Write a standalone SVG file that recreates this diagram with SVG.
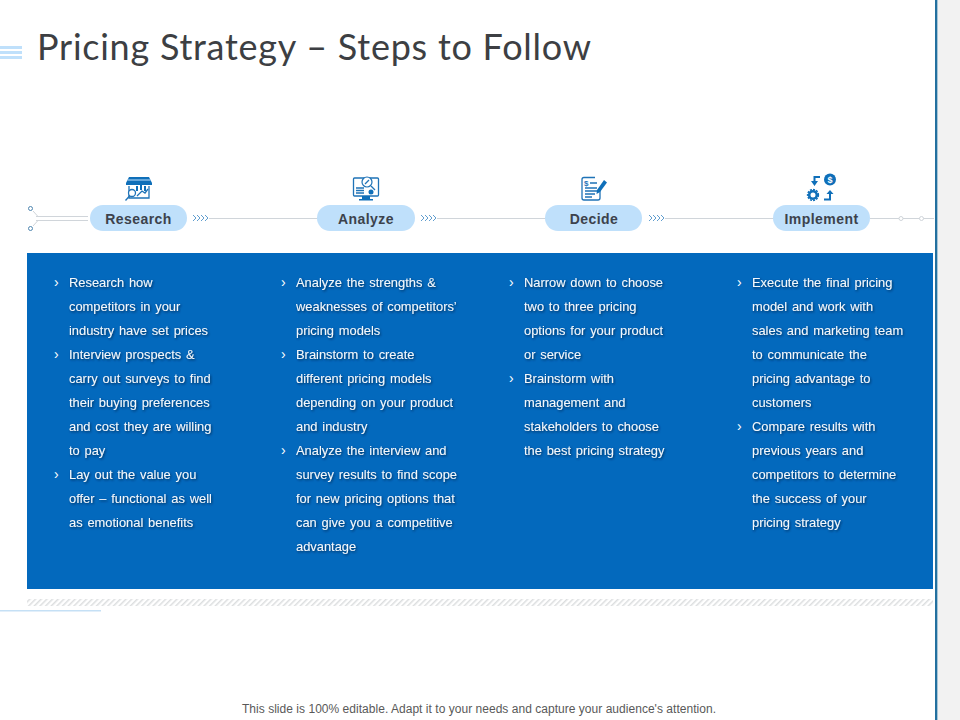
<svg xmlns="http://www.w3.org/2000/svg" width="960" height="720" viewBox="0 0 960 720">
<style>
.t{font-family:"Liberation Sans",Arial,sans-serif}
.pill{fill:#bfe0fb}
.pl{font-family:"Liberation Sans",Arial,sans-serif;font-size:14px;font-weight:700;fill:#3c424c;text-anchor:middle;letter-spacing:.45px}
.b{font-family:"Liberation Sans",Arial,sans-serif;font-size:12.9px;fill:#f4f8fc;word-spacing:1.2px;filter:url(#sh)}
.bu{font-family:"Liberation Sans",sans-serif;font-size:14px;fill:#fff}
.ln{stroke:#d0d5da;stroke-width:1;fill:none}
.ch{stroke:#4f93c9;stroke-width:.9;fill:none}
.ic{stroke:#1f73b7;stroke-width:1.3;fill:none}
.if{fill:#0f6fb9}
</style>
<defs>
<filter id="sh" x="-5%" y="-20%" width="110%" height="150%"><feDropShadow dx="1" dy="1.200" stdDeviation="0.8" flood-color="#00264d" flood-opacity="0.85"/></filter>
<pattern id="hatch" width="4" height="4" patternUnits="userSpaceOnUse" patternTransform="rotate(45)"><rect width="1.500" height="4" fill="#dcdedf"/></pattern>
<g id="chev"><path class="ch" d="M0 -3L3 0L0 3M4 -3L7 0L4 3M8 -3L11 0L8 3M12 -3L15 0L12 3"/></g>
</defs>
<rect width="960" height="720" fill="#fff"/>
<rect x="938" y="0" width="22" height="720" fill="#f2f2f2"/>
<rect x="935" y="0" width="2.400" height="720" fill="#23709f"/>
<g id="menu" fill="#bfe0fb"><rect x="0" y="46" width="22" height="3"/><rect x="0" y="51" width="22" height="3"/><rect x="0" y="56" width="22" height="3"/></g>
<text id="title" x="37" y="60" font-family="Lato,'Open Sans',sans-serif" font-size="36px" fill="#3d3f43" textLength="554" lengthAdjust="spacing">Pricing Strategy – Steps to Follow</text>

<g id="connectors">
<path class="ln" d="M36 216.500H88M36 220.500H88M33 211L38 216.500M33 226L38 220.500"/>
<path class="ln" d="M209 218.500H318M437 218.500H546M665 218.500H774M870 218.500H934"/>
<use href="#chev" x="193" y="218"/><use href="#chev" x="421" y="218"/><use href="#chev" x="649" y="218"/>
<circle cx="30.500" cy="208.500" r="2" fill="#fff" stroke="#4f86b0"/>
<circle cx="30.500" cy="228.500" r="2" fill="#fff" stroke="#4f86b0"/>
<circle cx="901" cy="218.500" r="2" fill="#fff" stroke="#d0d5da"/>
<circle cx="921.500" cy="218.500" r="2" fill="#fff" stroke="#d0d5da"/>
</g>

<g id="research">
<rect class="pill" x="90" y="205" width="97" height="26" rx="13"/>
<text class="pl" x="138.500" y="224">Research</text>
<path class="if" d="M129 177H149L152 183V185H126V183Z"/>
<path d="M127.500 180H150.500" stroke="#bfe0fb" stroke-width="1"/>
<path class="ic" d="M129 186V198H149V186"/>
<path class="ic" d="M137 196L142 191L145 193L148 189"/>
<rect class="if" x="136" y="186" width="2" height="5"/><rect class="if" x="140" y="185" width="2" height="5"/><rect class="if" x="144" y="186" width="2" height="5"/>
<circle cx="132" cy="193" r="3.500" fill="#fff" stroke="#1f73b7" stroke-width="1.300"/><path class="ic" d="M129.500 196L125.500 200.500"/>
</g>
<g id="analyze">
<rect class="pill" x="317" y="205" width="98" height="26" rx="13"/>
<text class="pl" x="366" y="224">Analyze</text>
<rect class="ic" x="353.500" y="178" width="25" height="18" rx="1"/>
<path class="if" d="M362 196H370V199H373V200.500H359V199H362Z"/>
<circle cx="367" cy="182" r="5" fill="#fff" stroke="#1f73b7" stroke-width="1.200"/><path class="ic" d="M371 186L375 190M365 184L369 180"/>
<path class="ic" d="M356 188H364M356 190.500H364M356 193H364"/><circle class="if" cx="371" cy="192" r="2.500"/>
</g>
<g id="decide">
<rect class="pill" x="545" y="205" width="97" height="26" rx="13"/>
<text class="pl" x="594" y="224">Decide</text>
<path class="ic" d="M595 177.500H584Q582 177.500 582 179.500V198Q582 200 584 200H598Q600 200 600 198V190"/>
<path class="ic" d="M590 183H597M585 188H597M585 191H597M585 194H595M585 197H592"/>
<text x="584" y="186" font-family="'Liberation Sans',sans-serif" font-size="8px" font-weight="700" fill="#1f73b7">$</text>
<path class="if" d="M604 180L607 182.500L600 192L596.500 194L597 190Z"/>
</g>
<g id="implement">
<rect class="pill" x="773" y="205" width="97" height="26" rx="13"/>
<text class="pl" x="821.500" y="224">Implement</text>
<circle class="if" cx="830" cy="179.500" r="6"/>
<text x="830" y="183" font-family="'Liberation Sans',sans-serif" font-size="9px" font-weight="700" fill="#fff" text-anchor="middle">$</text>
<path class="if" d="M820 176V178H815.500V181H818L814.500 186L811 181H813.500V176Z"/>
<circle cx="813" cy="195" r="3.800" fill="none" stroke="#0f6fb9" stroke-width="2.600"/>
<circle cx="813" cy="195" r="5.400" fill="none" stroke="#0f6fb9" stroke-width="1.500" stroke-dasharray="2 1.100"/>
<path class="if" d="M824 198.500H829V194H826.500L830 190L833.500 194H831V200.500H824Z"/>
</g>

<rect id="panel" x="27" y="253" width="906" height="336" fill="#0369bd"/>
<rect id="hatchband" x="27" y="599" width="906" height="7" fill="url(#hatch)"/>
<rect id="underline" x="0" y="610" width="101" height="1.500" fill="#c5e0f5"/>

<g id="col1">
<text class="bu" x="54" y="287">›</text><text class="b" x="69" y="287">Research how</text>
<text class="b" x="69" y="311">competitors in your</text>
<text class="b" x="69" y="335">industry have set prices</text>
<text class="bu" x="54" y="359">›</text><text class="b" x="69" y="359">Interview prospects &amp;</text>
<text class="b" x="69" y="383">carry out surveys to find</text>
<text class="b" x="69" y="407">their buying preferences</text>
<text class="b" x="69" y="431">and cost they are willing</text>
<text class="b" x="69" y="455">to pay</text>
<text class="bu" x="54" y="479">›</text><text class="b" x="69" y="479">Lay out the value you</text>
<text class="b" x="69" y="503">offer – functional as well</text>
<text class="b" x="69" y="527">as emotional benefits</text>
</g>
<g id="col2">
<text class="bu" x="281" y="287">›</text><text class="b" x="296" y="287">Analyze the strengths &amp;</text>
<text class="b" x="296" y="311">weaknesses of competitors’</text>
<text class="b" x="296" y="335">pricing models</text>
<text class="bu" x="281" y="359">›</text><text class="b" x="296" y="359">Brainstorm to create</text>
<text class="b" x="296" y="383">different pricing models</text>
<text class="b" x="296" y="407">depending on your product</text>
<text class="b" x="296" y="431">and industry</text>
<text class="bu" x="281" y="455">›</text><text class="b" x="296" y="455">Analyze the interview and</text>
<text class="b" x="296" y="479">survey results to find scope</text>
<text class="b" x="296" y="503">for new pricing options that</text>
<text class="b" x="296" y="527">can give you a competitive</text>
<text class="b" x="296" y="551">advantage</text>
</g>
<g id="col3">
<text class="bu" x="509" y="287">›</text><text class="b" x="524" y="287">Narrow down to choose</text>
<text class="b" x="524" y="311">two to three pricing</text>
<text class="b" x="524" y="335">options for your product</text>
<text class="b" x="524" y="359">or service</text>
<text class="bu" x="509" y="383">›</text><text class="b" x="524" y="383">Brainstorm with</text>
<text class="b" x="524" y="407">management and</text>
<text class="b" x="524" y="431">stakeholders to choose</text>
<text class="b" x="524" y="455">the best pricing strategy</text>
</g>
<g id="col4">
<text class="bu" x="737" y="287">›</text><text class="b" x="752" y="287">Execute the final pricing</text>
<text class="b" x="752" y="311">model and work with</text>
<text class="b" x="752" y="335">sales and marketing team</text>
<text class="b" x="752" y="359">to communicate the</text>
<text class="b" x="752" y="383">pricing advantage to</text>
<text class="b" x="752" y="407">customers</text>
<text class="bu" x="737" y="431">›</text><text class="b" x="752" y="431">Compare results with</text>
<text class="b" x="752" y="455">previous years and</text>
<text class="b" x="752" y="479">competitors to determine</text>
<text class="b" x="752" y="503">the success of your</text>
<text class="b" x="752" y="527">pricing strategy</text>
</g>
<text id="footer" class="t" x="479" y="713" font-size="12px" fill="#595959" text-anchor="middle" textLength="474">This slide is 100% editable. Adapt it to your needs and capture your audience's attention.</text>
</svg>
